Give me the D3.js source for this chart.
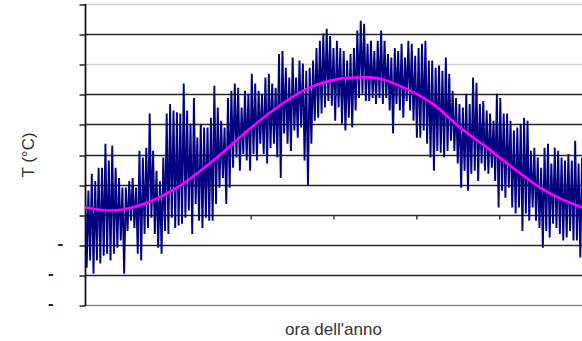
<!DOCTYPE html>
<html>
<head>
<meta charset="utf-8">
<script src="https://cdn.jsdelivr.net/npm/d3@7"></script>
<style>
  html, body { margin: 0; padding: 0; background: #fff; }
  svg { display: block; }
  text { font-family: "Liberation Sans", Arial, sans-serif; }
</style>
</head>
<body>
<script>
// ---- data ----
const hoursInYear = 8760;
const sampleStepHours = 60;           // one high/low pair of hourly readings every 60 h
const tempHigh = [4.0,4.0,6.8,5.6,7.8,7.8,11.8,9.0,11.5,7.8,6.1,4.5,4.5,5.6,6.1,4.5,10.6,9.5,11.1,16.8,
  10.6,7.3,5.6,9.5,16.8,18.4,17.3,17.0,16.8,21.8,17.3,15.1,19.4,12.8,15.1,14.5,14.5,16.1,21.4,17.8,
  15.6,14.5,19.4,20.6,21.8,21.1,17.8,20.6,20.1,23.4,21.8,20.6,20.1,22.8,23.4,21.8,21.1,26.7,27.2,24.4,
  22.8,26.1,22.8,25.6,25.1,23.9,24.4,25.6,27.7,28.9,30.1,30.9,29.7,27.7,28.9,27.7,27.2,25.6,26.7,27.7,
  30.6,32.2,31.7,28.4,28.9,27.2,28.9,30.6,28.9,26.7,26.1,27.7,27.2,28.4,26.1,28.9,28.4,26.4,27.7,28.4,
  28.9,25.6,25.6,24.4,24.8,23.9,26.1,23.4,20.6,19.4,18.4,17.8,20.1,18.4,22.8,21.9,18.4,18.9,17.3,16.8,
  15.6,20.1,19.4,16.8,16.8,15.6,14.0,14.5,15.1,16.1,15.6,10.6,11.1,9.5,7.8,11.1,11.8,8.5,11.1,10.6,
  9.5,9.0,10.1,9.0,12.3,8.5,9.5];
const tempLow = [-8.8,-7.6,-9.8,-7.6,-8.1,-6.8,-6.5,-7.6,-6.5,-5.5,-4.3,-9.8,-2.7,-1.0,-2.2,-6.5,-7.6,-3.2,-2.2,-0.5,
  -3.2,-5.5,-6.5,-2.7,-3.2,-0.5,-2.2,-1.8,-1.5,-0.5,0.7,-3.2,1.8,-1.0,-2.2,-0.5,-1.0,-1.0,1.8,4.5,
  6.1,1.8,4.5,7.8,9.5,7.3,10.1,9.0,7.3,10.1,9.0,11.8,10.1,8.5,11.1,11.8,9.5,6.1,13.5,11.8,
  10.6,14.0,12.8,14.5,9.0,4.8,11.8,15.6,16.1,16.8,17.8,18.9,18.1,15.6,17.8,15.1,14.0,16.1,14.5,17.3,
  19.4,20.1,18.9,18.9,19.4,18.4,19.4,18.4,19.4,17.3,13.5,18.4,17.3,16.1,18.9,17.3,15.6,12.8,12.8,14.0,
  11.8,9.5,7.3,10.6,10.3,9.5,10.6,12.3,10.6,8.5,4.5,7.3,4.0,6.8,7.3,5.6,8.5,7.3,6.8,7.8,
  5.6,1.2,4.0,2.8,4.5,1.2,0.2,1.2,-2.7,0.2,-1.0,1.2,-1.0,-2.2,-5.5,-2.7,-3.8,-1.5,-2.2,-3.2,
  -4.3,-3.8,-2.7,-4.3,-4.3,-7.1,-8.1];
// smooth annual (sinusoidal) trend, magenta
const trendHours = [0,500,1100,1670,2260,2910,3310,3910,4500,4850,5200,5730,6130,6610,7090,7610,8020,8370,8760];
const trendTemps = [1.2,0.7,2.0,4.8,9.0,14.3,17.3,20.9,22.6,22.8,22.6,20.6,18.4,14.5,11.1,7.3,4.5,2.7,1.2];
// axis
const yTickValues = [-15,-10,-5,0,5,10,15,20,25,30,35];
const yTickLabels = { "-5": "-", "-10": "-", "-15": "-" };   // only the minus signs are visible
const xTickStepHours = 1460;
const xTitle = "ora dell'anno";
const yTitle = "T (°C)";

// ---- drawing ----
const W = 582, H = 341;
const mLeft = 85, mRight = 582, mTop = 4, mBottom = 305;

const svg = d3.select("body").append("svg").attr("width", W).attr("height", H);

const x = d3.scaleLinear().domain([0, hoursInYear]).range([mLeft, mRight]);
const y = d3.scaleLinear().domain([-15, 35]).range([mBottom, mTop]);

// grid lines
const lightLines = new Set([35, 25]);
svg.append("g").selectAll("line").data(yTickValues).join("line")
  .attr("x1", mLeft).attr("x2", mRight)
  .attr("y1", d => Math.round(y(d)) + 0.5).attr("y2", d => Math.round(y(d)) + 0.5)
  .attr("stroke", d => lightLines.has(d) ? "#cfcfcf" : (d === -15 ? "#8a8a8a" : "#262626"))
  .attr("stroke-width", 1.7);

// x axis at 0 with tick marks
const xTicks = d3.range(0, hoursInYear + 1, xTickStepHours);
const xAxis = d3.axisBottom(x).tickValues(xTicks).tickSize(4).tickSizeOuter(0).tickFormat("");
const gx = svg.append("g").attr("transform", `translate(0,${Math.round(y(0)) + 0.5})`).call(xAxis);
gx.select(".domain").remove();
gx.selectAll("line").attr("stroke", "#222").attr("stroke-width", 1.3);

// y axis
const yAxis = d3.axisLeft(y).tickValues(yTickValues).tickSize(6).tickSizeOuter(0).tickPadding(7)
  .tickFormat(d => yTickLabels[String(d)] || "");
const gy = svg.append("g").attr("transform", `translate(${mLeft + 0.5},0)`).call(yAxis);
gy.select(".domain").attr("stroke", "#111").attr("stroke-width", 1.8)
  .attr("d", `M0,${mTop}V${mBottom + 1}`);
gy.selectAll(".tick line").attr("stroke", "#222").attr("stroke-width", 1.5)
  .attr("transform", d => `translate(0,${Math.round(y(d)) + 0.5 - y(d)})`);
gy.selectAll(".tick text")
  .attr("font-size", 17).attr("fill", "#222").attr("font-weight", "bold")
  .attr("dx", d => -(String(Math.abs(d)).length * 0.556 * 17))
  .attr("dy", "0.22em");

// clip
svg.append("clipPath").attr("id", "plot")
  .append("rect").attr("x", mLeft).attr("y", mTop).attr("width", mRight - mLeft).attr("height", mBottom - mTop);

// hourly temperature series: a high and a low reading per step
const series = [];
tempHigh.forEach((v, i) => {
  series.push({ h: i * sampleStepHours, t: v });
  series.push({ h: i * sampleStepHours + sampleStepHours / 2, t: tempLow[i] });
});
const line = d3.line().x(d => x(d.h)).y(d => y(d.t));
svg.append("path").datum(series)
  .attr("clip-path", "url(#plot)")
  .attr("d", line)
  .attr("fill", "none")
  .attr("stroke", "#000080")
  .attr("stroke-width", 1.9)
  .attr("stroke-linejoin", "bevel");

// trend curve
const trend = trendHours.map((h, i) => ({ h, t: trendTemps[i] }));
svg.append("path").datum(trend)
  .attr("clip-path", "url(#plot)")
  .attr("d", d3.line().x(d => x(d.h)).y(d => y(d.t)).curve(d3.curveCatmullRom.alpha(0.5)))
  .attr("fill", "none")
  .attr("stroke", "#ff00ff")
  .attr("stroke-width", 2.6);

// titles
svg.append("text")
  .attr("x", (mLeft + mRight) / 2).attr("y", 335)
  .attr("text-anchor", "middle").attr("font-size", 17).attr("fill", "#333")
  .text(xTitle);
svg.append("text")
  .attr("transform", `translate(34,155) rotate(-90)`)
  .attr("text-anchor", "middle").attr("font-size", 17).attr("fill", "#333")
  .text(yTitle);
</script>
</body>
</html>
